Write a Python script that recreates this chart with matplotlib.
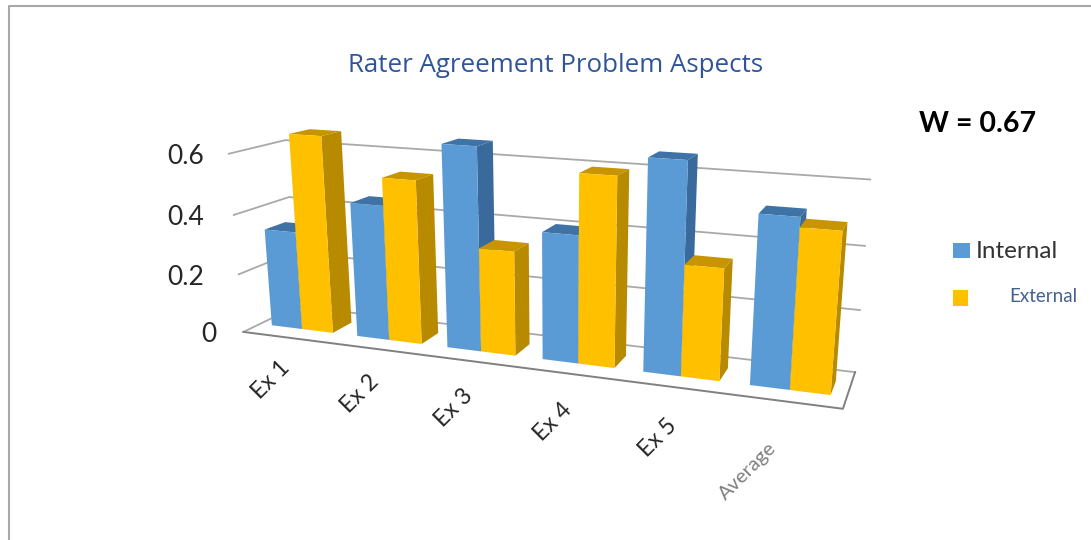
import numpy as np
import matplotlib
matplotlib.use("Agg")
import matplotlib.pyplot as plt
from matplotlib.patches import Polygon, Rectangle

plt.rcParams['font.family'] = ['Lato', 'DejaVu Sans']

categories = ['Ex 1', 'Ex 2', 'Ex 3', 'Ex 4', 'Ex 5', 'Average']
internal = [0.335, 0.45, 0.66, 0.41, 0.66, 0.52]
external = [0.66, 0.54, 0.34, 0.60, 0.35, 0.49]
y_ticks = [0, 0.2, 0.4, 0.6]
y_max = 0.6

# Box corners as (x, depth, height) fractions and where they land on the canvas.
box_pts = [(0, 0, 0), (0, 0, 1), (0, 1, 0), (0, 1, 1), (1, 0, 0), (1, 1, 0), (1, 1, 1), (1, 0, 1)]
canvas_pts = [(243, 332), (229, 154), (297, 306), (285, 140),
              (843, 408), (855, 373), (870, 179), (859, 200)]


def fit_camera(src, dst):
    # Least squares projective camera, with the last entry fixed to 1.
    rows, rhs = [], []
    for (x, y, z), (u, v) in zip(src, dst):
        rows.append([x, y, z, 1, 0, 0, 0, 0, -u * x, -u * y, -u * z])
        rhs.append(u)
        rows.append([0, 0, 0, 0, x, y, z, 1, -v * x, -v * y, -v * z])
        rhs.append(v)
    p = np.linalg.lstsq(np.array(rows, float), np.array(rhs, float), rcond=None)[0]
    return np.append(p, 1).reshape(3, 4)


camera = fit_camera(box_pts, canvas_pts)


def project(x, d, value):
    h = camera @ np.array([x, d, value / y_max, 1.0])
    return h[0] / h[2], h[1] / h[2]


def draw_bar(ax, x0, x1, value, front, side, top):
    d0, d1 = 0.30, 0.68
    ax.add_patch(Polygon([project(x0, d0, value), project(x1, d0, value),
                          project(x1, d1, value), project(x0, d1, value)],
                         fc=top, ec='none', zorder=3))
    ax.add_patch(Polygon([project(x1, d0, 0), project(x1, d1, 0),
                          project(x1, d1, value), project(x1, d0, value)],
                         fc=side, ec='none', zorder=3))
    ax.add_patch(Polygon([project(x0, d0, 0), project(x1, d0, 0),
                          project(x1, d0, value), project(x0, d0, value)],
                         fc=front, ec='none', zorder=3))


fig = plt.figure(figsize=(10.91, 5.40), dpi=100)
ax = fig.add_axes([0, 0, 1, 1])
ax.set_xlim(0, 1091)
ax.set_ylim(540, 0)
ax.axis('off')

# Outer frame, open at the right and bottom.
ax.plot([9, 9, 1091], [540, 6, 6], color='#a8a8a8', lw=1.5)

# Gridlines on the side and back walls.
grid_color = '#a9a9a9'
for t in y_ticks:
    pts = [project(0, 0, t), project(0, 1, t), project(1, 1, t)]
    ax.plot([p[0] for p in pts], [p[1] for p in pts], color=grid_color, lw=1.3, zorder=1)
    lx, ly = project(0, 0, t)
    ax.text(217 if t == 0 else 204, ly + 3, f'{t:g}', ha='right', va='center',
            fontsize=19, color='#262626')

# Floor edges
floor = [project(0, 0, 0), project(1, 0, 0), project(1, 1, 0)]
ax.plot([p[0] for p in floor], [p[1] for p in floor], color='#808080', lw=1.4, zorder=1)

# Columns, left to right so each one sits over its neighbour.
bar_w = 0.060
for i in range(len(categories)):
    mid = (i + 0.5) / len(categories)
    draw_bar(ax, mid - bar_w, mid, internal[i], '#5b9bd5', '#3a6a9b', '#3f72a5')
    draw_bar(ax, mid, mid + bar_w, external[i], '#ffc000', '#b88a00', '#c89500')

# Category labels below the front edge, drifting lower towards the right.
for i, name in enumerate(categories):
    mid = (i + 0.5) / len(categories)
    px, py = project(mid, 0, 0)
    if name == 'Average':
        ax.text(px - 17, py + 38, name, rotation=45, rotation_mode='anchor', ha='right', va='top',
                fontsize=14.5, color='#7f7f7f')
    else:
        ax.text(px - 7, py + 20 + 2 * i, name, rotation=45, rotation_mode='anchor', ha='right', va='top',
                fontsize=16.5, color='#262626')

ax.text(556, 65, 'Rater Agreement Problem Aspects', ha='center', va='center',
        fontsize=18.6, color='#2f5597', family=['Open Sans', 'DejaVu Sans'])
ax.text(978, 124, 'W = 0.67', ha='center', va='center', fontsize=20.5, fontweight='bold', color='black')

# Legend
ax.add_patch(Rectangle((953, 243), 17, 15, fc='#5b9bd5', ec='none'))
ax.text(976, 252, 'Internal', ha='left', va='center', fontsize=17.5, color='#333333')
ax.add_patch(Rectangle((953, 290), 15, 16, fc='#ffc000', ec='none'))
ax.text(1009, 296, 'External', ha='left', va='center', fontsize=13.5, color='#44618f')

fig.savefig('out.png', dpi=100)
